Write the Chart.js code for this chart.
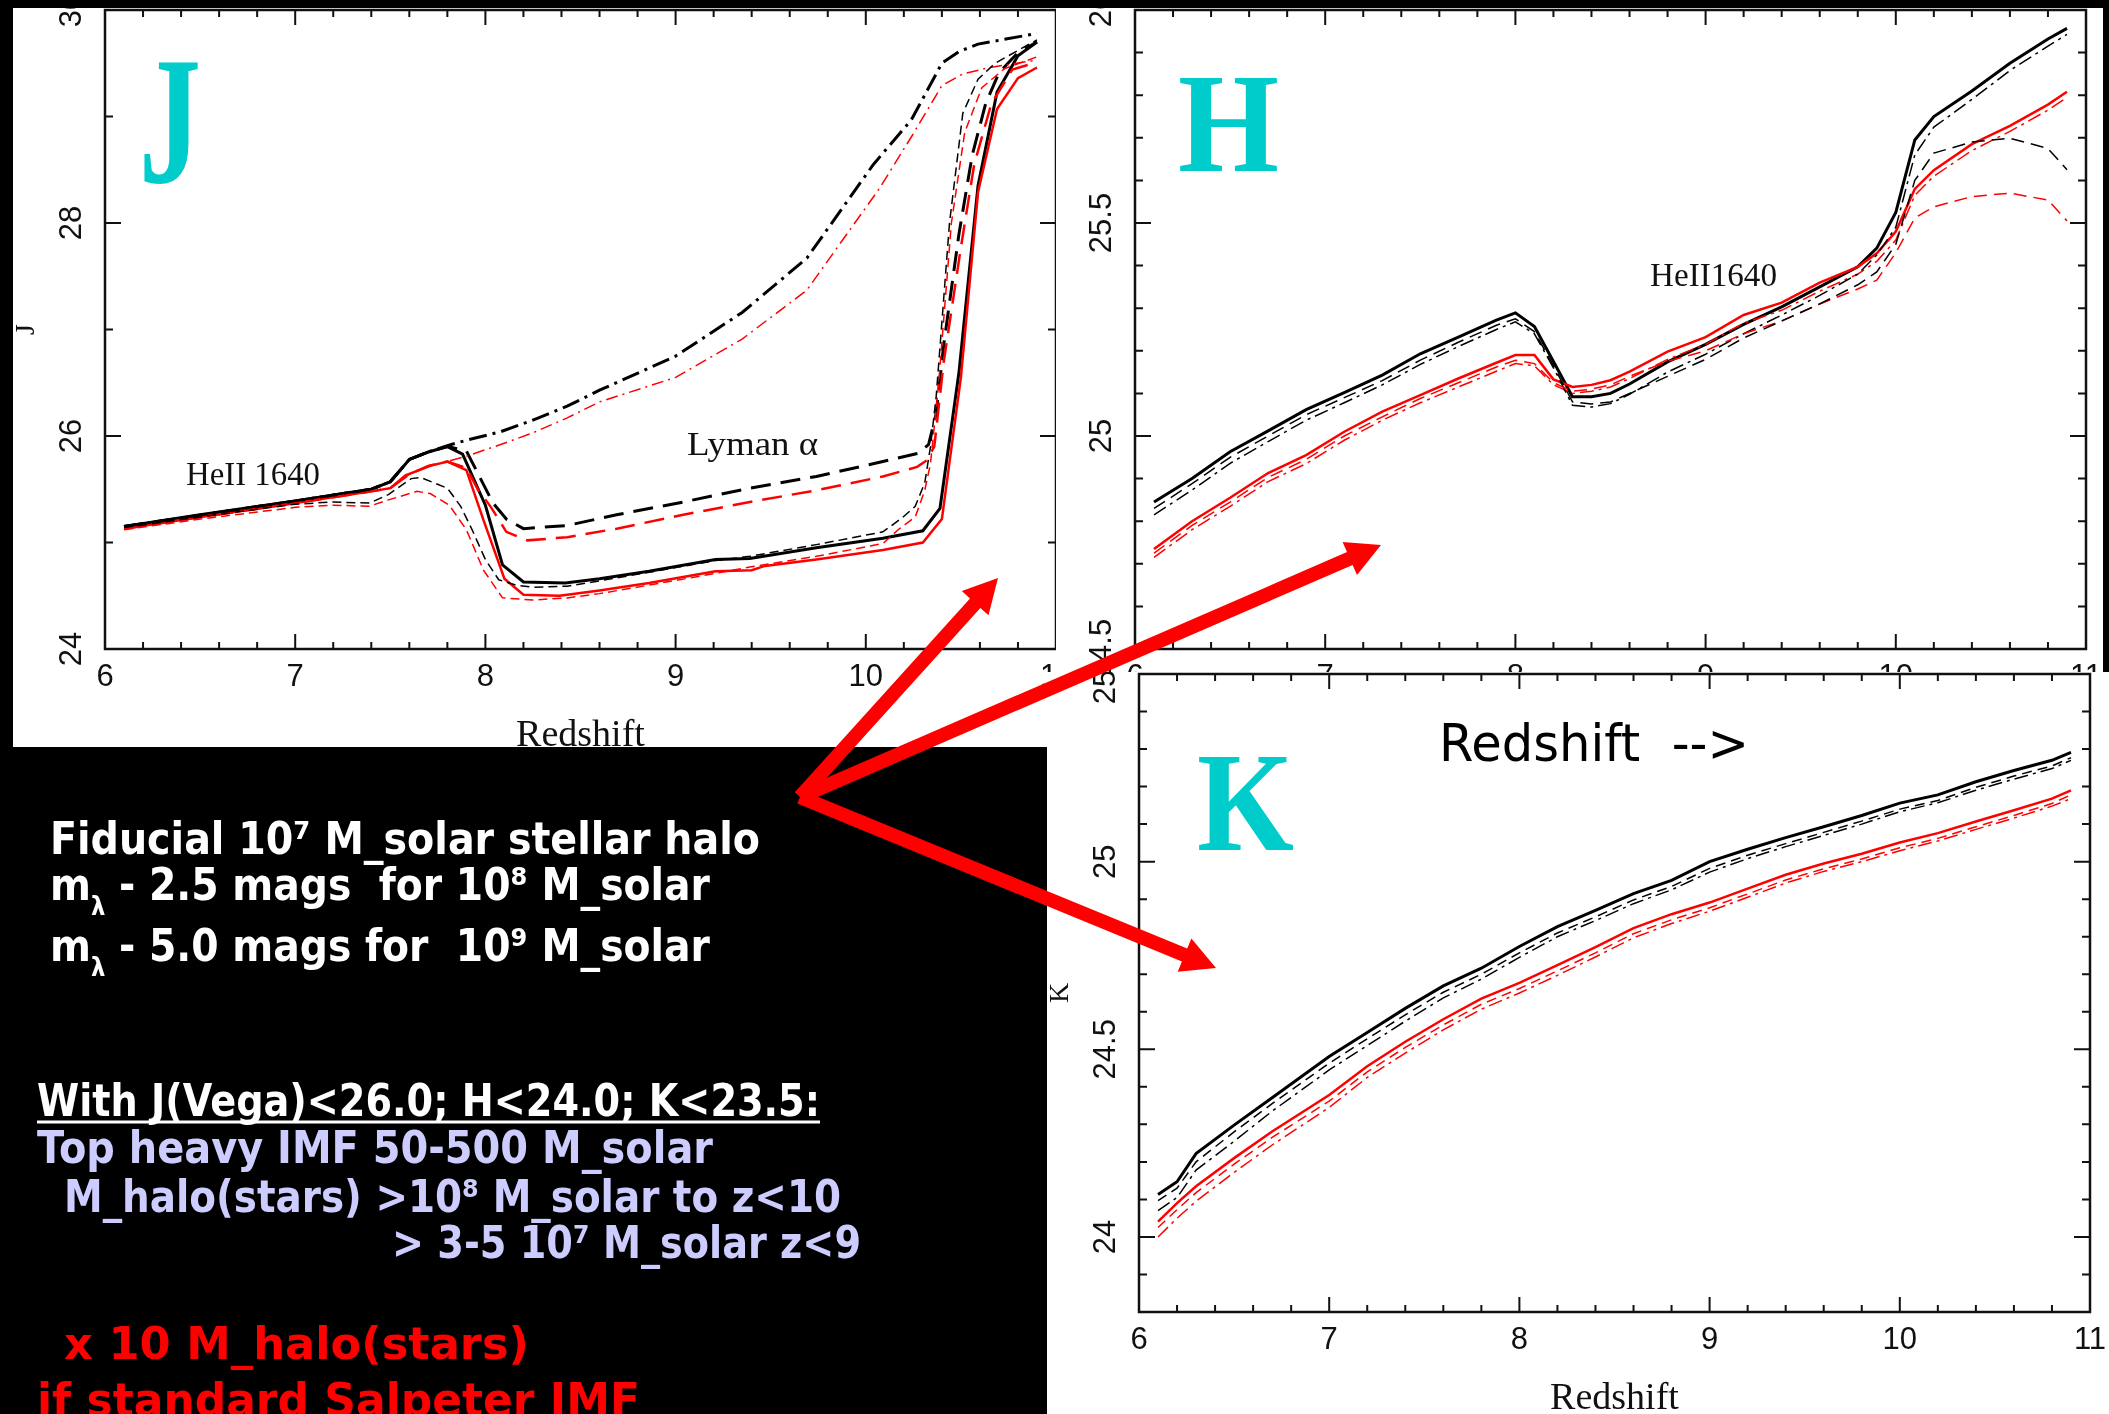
<!DOCTYPE html>
<html>
<head>
<meta charset="utf-8">
<script src="https://cdn.jsdelivr.net/npm/chart.js@4.4.1/dist/chart.umd.min.js"></script>
<style>
html, body { margin: 0; padding: 0; background: #000; }
body { position: relative; width: 2109px; height: 1414px; overflow: hidden; }
canvas { position: absolute; background: #fff; }
#cJ { left: 13px; top: 8px; }
#cH { left: 1056px; top: 8px; }
#cK { left: 1047px; top: 672px; }
#over { position: absolute; left: 0; top: 0; }
#over text { white-space: pre; }
.side { font-family: "DejaVu Sans", sans-serif; font-weight: bold; font-size: 45px; }
.big { font-family: "Liberation Serif", serif; font-weight: bold; font-size: 142px; fill: #00cccc; }
.note { font-family: "Liberation Serif", serif; font-size: 33px; fill: #111; }
</style>
</head>
<body>
<canvas id="cJ" width="1043" height="739"></canvas>
<canvas id="cH" width="1047" height="700"></canvas>
<canvas id="cK" width="1062" height="742"></canvas>
<svg id="over" width="2109" height="1414" xmlns="http://www.w3.org/2000/svg">
  <text class="big" x="139" y="182" style="font-size:183px" textLength="62" lengthAdjust="spacingAndGlyphs">J</text>
  <text class="big" x="1178" y="171" textLength="101" lengthAdjust="spacingAndGlyphs">H</text>
  <text class="big" x="1197" y="850" textLength="97" lengthAdjust="spacingAndGlyphs">K</text>
  <text x="1439" y="761" font-family="DejaVu Sans, sans-serif" font-size="52" textLength="310" lengthAdjust="spacingAndGlyphs">Redshift  --&gt;</text>

  <text class="note" x="186" y="485" textLength="134" lengthAdjust="spacingAndGlyphs">HeII 1640</text>
  <text class="note" x="687" y="455" textLength="131" lengthAdjust="spacingAndGlyphs">Lyman α</text>
  <text class="note" x="1650" y="286" textLength="127" lengthAdjust="spacingAndGlyphs">HeII1640</text>

  <text class="side" fill="#fff" x="50" y="854" textLength="710" lengthAdjust="spacingAndGlyphs">Fiducial 10⁷ M_solar stellar halo</text>
  <text class="side" fill="#fff" x="50" y="900" textLength="660" lengthAdjust="spacingAndGlyphs">m<tspan dy="15" style="font-size:26px">λ</tspan><tspan dy="-15"> - 2.5 mags  for 10⁸ M_solar</tspan></text>
  <text class="side" fill="#fff" x="50" y="961" textLength="660" lengthAdjust="spacingAndGlyphs">m<tspan dy="15" style="font-size:26px">λ</tspan><tspan dy="-15"> - 5.0 mags for  10⁹ M_solar</tspan></text>
  <text class="side" fill="#fff" x="37" y="1116" textLength="783" lengthAdjust="spacingAndGlyphs">With J(Vega)&lt;26.0; H&lt;24.0; K&lt;23.5:</text>
  <line x1="37" y1="1122" x2="820" y2="1122" stroke="#fff" stroke-width="3"/>
  <text class="side" fill="#ccccff" x="37" y="1163" textLength="676" lengthAdjust="spacingAndGlyphs">Top heavy IMF 50-500 M_solar</text>
  <text class="side" fill="#ccccff" x="64" y="1212" textLength="777" lengthAdjust="spacingAndGlyphs">M_halo(stars) &gt;10⁸ M_solar to z&lt;10</text>
  <text class="side" fill="#ccccff" x="392" y="1258" textLength="469" lengthAdjust="spacingAndGlyphs">&gt; 3-5 10⁷ M_solar z&lt;9</text>
  <text class="side" fill="#ff0000" x="64" y="1359" textLength="465" lengthAdjust="spacingAndGlyphs">x 10 M_halo(stars)</text>
  <text class="side" fill="#ff0000" x="37" y="1416" style="font-size:47px" textLength="603" lengthAdjust="spacingAndGlyphs">if standard Salpeter IMF</text>
  <g id="arrows" fill="#ff0000"></g>
</svg>
<script>
// ---------------------------
// shared axes
// ---------------------------
const zTickLabels = [6, 7, 8, 9, 10, 11];
const jTickLabels = [24, 26, 28, 30];
const hTickLabels = [24.5, 25, 25.5, 26];
const kTickLabels = [24, 24.5, 25, 25.5];

// ---------------------------
// J band (redshift, mag)
// ---------------------------
const jBlackSolidZ = [6.1, 6.5, 7.0, 7.4, 7.5, 7.6, 7.7, 7.8, 7.88, 8.0, 8.09, 8.2, 8.42, 8.6, 8.86, 9.21, 9.39, 9.74, 10.09, 10.3, 10.39, 10.49, 10.59, 10.69, 10.8, 10.9];
const jBlackSolid  = [25.15, 25.26, 25.39, 25.50, 25.57, 25.78, 25.85, 25.90, 25.83, 25.35, 24.79, 24.63, 24.62, 24.66, 24.73, 24.84, 24.85, 24.95, 25.04, 25.11, 25.32, 26.6, 28.35, 29.23, 29.57, 29.70];

const jRedSolidZ = [6.1, 6.5, 7.0, 7.4, 7.5, 7.58, 7.71, 7.8, 7.9, 7.99, 8.1, 8.2, 8.39, 8.6, 8.86, 9.21, 9.4, 9.47, 9.74, 10.09, 10.3, 10.4, 10.5, 10.59, 10.69, 10.8, 10.9];
const jRedSolid  = [25.13, 25.24, 25.37, 25.48, 25.51, 25.63, 25.72, 25.76, 25.68, 25.21, 24.66, 24.51, 24.50, 24.55, 24.62, 24.73, 24.74, 24.78, 24.84, 24.93, 25.0, 25.22, 26.55, 28.29, 29.07, 29.36, 29.46];

const jBlackDashDotZ = [6.1, 7.0, 7.4, 7.5, 7.6, 7.7, 7.8, 7.9, 8.08, 8.25, 8.43, 8.6, 9.0, 9.35, 9.69, 10.04, 10.24, 10.4, 10.49, 10.59, 10.9];
const jBlackDashDot  = [25.15, 25.39, 25.50, 25.57, 25.78, 25.85, 25.91, 25.96, 26.04, 26.15, 26.28, 26.43, 26.75, 27.16, 27.67, 28.55, 28.97, 29.50, 29.61, 29.68, 29.78];

const jRedDashDotZ = [6.1, 7.0, 7.4, 7.5, 7.6, 7.7, 7.8, 7.9, 8.08, 8.25, 8.43, 8.6, 9.0, 9.35, 9.69, 10.07, 10.24, 10.4, 10.51, 10.65, 10.9];
const jRedDashDot  = [25.13, 25.37, 25.48, 25.51, 25.64, 25.72, 25.76, 25.81, 25.92, 26.03, 26.17, 26.32, 26.55, 26.91, 27.37, 28.32, 28.81, 29.29, 29.40, 29.46, 29.53];

const jBlackDashZ = [6.1, 7.0, 7.4, 7.5, 7.6, 7.7, 7.8, 7.9, 7.96, 8.04, 8.11, 8.2, 8.43, 8.69, 9.04, 9.39, 9.74, 10.09, 10.28, 10.33, 10.37, 10.41, 10.49, 10.56, 10.63, 10.7, 10.8, 10.9];
const jBlackDash  = [25.15, 25.39, 25.50, 25.57, 25.78, 25.85, 25.90, 25.86, 25.65, 25.37, 25.22, 25.13, 25.16, 25.26, 25.38, 25.51, 25.62, 25.76, 25.84, 25.92, 26.21, 26.86, 27.90, 28.64, 29.12, 29.41, 29.60, 29.70];

const jRedDashZ = [6.1, 7.0, 7.4, 7.5, 7.6, 7.7, 7.8, 7.9, 7.96, 8.03, 8.11, 8.22, 8.43, 8.69, 9.04, 9.39, 9.74, 10.09, 10.27, 10.32, 10.36, 10.41, 10.5, 10.57, 10.66, 10.77, 10.9];
const jRedDash  = [25.13, 25.37, 25.48, 25.51, 25.64, 25.72, 25.76, 25.70, 25.50, 25.33, 25.10, 25.02, 25.05, 25.13, 25.26, 25.38, 25.49, 25.62, 25.71, 25.77, 25.90, 26.70, 27.77, 28.55, 29.12, 29.44, 29.51];

const jBlackThinZ = [6.1, 6.5, 7.0, 7.2, 7.39, 7.49, 7.61, 7.66, 7.8, 7.87, 7.93, 8.0, 8.07, 8.16, 8.25, 8.43, 8.6, 8.86, 9.21, 9.39, 9.74, 10.09, 10.19, 10.26, 10.31, 10.34, 10.37, 10.44, 10.51, 10.59, 10.68, 10.9];
const jBlackThin  = [25.14, 25.24, 25.36, 25.38, 25.37, 25.45, 25.60, 25.61, 25.51, 25.34, 25.12, 24.84, 24.65, 24.60, 24.58, 24.59, 24.64, 24.72, 24.83, 24.87, 24.98, 25.10, 25.23, 25.34, 25.56, 25.90, 26.37, 28.0, 29.03, 29.35, 29.50, 29.72];

const jRedThinZ = [6.1, 6.5, 7.0, 7.2, 7.39, 7.49, 7.64, 7.71, 7.81, 7.9, 7.99, 8.09, 8.25, 8.43, 8.6, 8.86, 9.21, 9.39, 9.74, 10.09, 10.17, 10.26, 10.31, 10.34, 10.38, 10.45, 10.52, 10.61, 10.73, 10.9];
const jRedThin  = [25.12, 25.22, 25.33, 25.35, 25.34, 25.40, 25.48, 25.46, 25.35, 25.12, 24.74, 24.48, 24.46, 24.48, 24.52, 24.60, 24.71, 24.77, 24.87, 24.99, 25.12, 25.24, 25.49, 25.74, 26.43, 28.0, 28.85, 29.27, 29.45, 29.56];

// ---------------------------
// H band
// ---------------------------
const zH = [6.1, 6.3, 6.5, 6.7, 6.9, 7.1, 7.3, 7.5, 7.7, 7.9, 8.0, 8.1, 8.2, 8.3, 8.4, 8.5, 8.6, 8.8, 9.0, 9.2, 9.4, 9.6, 9.8, 9.9, 10.0, 10.1, 10.2, 10.4, 10.6, 10.8, 10.9];
const hBlackSolid   = [24.845, 24.90, 24.963, 25.012, 25.062, 25.102, 25.143, 25.193, 25.232, 25.272, 25.289, 25.257, 25.175, 25.092, 25.092, 25.10, 25.122, 25.174, 25.215, 25.262, 25.303, 25.35, 25.397, 25.441, 25.525, 25.695, 25.75, 25.81, 25.875, 25.932, 25.957];
const hBlackDashDot = [24.815, 24.873, 24.936, 24.987, 25.037, 25.078, 25.12, 25.168, 25.21, 25.25, 25.268, 25.24, 25.16, 25.072, 25.068, 25.076, 25.098, 25.15, 25.192, 25.24, 25.284, 25.33, 25.38, 25.425, 25.49, 25.66, 25.725, 25.79, 25.858, 25.915, 25.943];
const hBlackDash    = [24.83, 24.888, 24.95, 25.0, 25.05, 25.09, 25.13, 25.178, 25.22, 25.26, 25.275, 25.245, 25.165, 25.08, 25.075, 25.08, 25.1, 25.14, 25.18, 25.23, 25.27, 25.31, 25.355, 25.385, 25.45, 25.6, 25.664, 25.69, 25.699, 25.675, 25.625];
const hRedSolid     = [24.735, 24.80, 24.855, 24.913, 24.955, 25.01, 25.057, 25.096, 25.135, 25.172, 25.19, 25.19, 25.133, 25.115, 25.12, 25.131, 25.151, 25.198, 25.232, 25.284, 25.313, 25.36, 25.397, 25.429, 25.48, 25.58, 25.624, 25.685, 25.728, 25.778, 25.808];
const hRedDashDot   = [24.715, 24.78, 24.835, 24.893, 24.935, 24.99, 25.037, 25.078, 25.115, 25.152, 25.17, 25.165, 25.12, 25.1, 25.105, 25.115, 25.135, 25.18, 25.215, 25.265, 25.295, 25.34, 25.38, 25.41, 25.46, 25.565, 25.61, 25.67, 25.715, 25.765, 25.795];
const hRedDash      = [24.725, 24.79, 24.845, 24.903, 24.945, 25.0, 25.045, 25.088, 25.125, 25.162, 25.178, 25.17, 25.125, 25.105, 25.11, 25.12, 25.14, 25.175, 25.2, 25.24, 25.27, 25.31, 25.345, 25.366, 25.43, 25.512, 25.538, 25.562, 25.57, 25.554, 25.505];

// ---------------------------
// K band
// ---------------------------
const zK = [6.1, 6.2, 6.3, 6.5, 6.7, 7.0, 7.2, 7.4, 7.6, 7.8, 8.0, 8.2, 8.4, 8.6, 8.8, 9.0, 9.2, 9.4, 9.6, 9.8, 10.0, 10.2, 10.4, 10.6, 10.8, 10.9];
const kBlackSolid   = [24.113, 24.147, 24.222, 24.298, 24.371, 24.481, 24.545, 24.609, 24.669, 24.716, 24.774, 24.827, 24.870, 24.915, 24.950, 25.000, 25.033, 25.064, 25.093, 25.123, 25.156, 25.178, 25.213, 25.243, 25.270, 25.291];
const kBlackDash    = [24.097, 24.13, 24.20, 24.28, 24.355, 24.463, 24.528, 24.592, 24.652, 24.70, 24.757, 24.81, 24.853, 24.898, 24.934, 24.982, 25.017, 25.048, 25.078, 25.108, 25.14, 25.163, 25.198, 25.228, 25.255, 25.277];
const kBlackDashDot = [24.07, 24.105, 24.178, 24.255, 24.335, 24.445, 24.51, 24.575, 24.637, 24.687, 24.745, 24.8, 24.843, 24.888, 24.925, 24.972, 25.008, 25.04, 25.07, 25.1, 25.133, 25.157, 25.19, 25.22, 25.248, 25.27];
const kRedSolid     = [24.041, 24.09, 24.135, 24.21, 24.281, 24.378, 24.455, 24.52, 24.58, 24.635, 24.677, 24.724, 24.772, 24.823, 24.86, 24.891, 24.928, 24.965, 24.995, 25.021, 25.051, 25.076, 25.107, 25.137, 25.168, 25.19];
const kRedDash      = [24.025, 24.073, 24.118, 24.194, 24.265, 24.362, 24.44, 24.505, 24.565, 24.62, 24.662, 24.709, 24.757, 24.808, 24.845, 24.877, 24.914, 24.951, 24.981, 25.007, 25.037, 25.062, 25.093, 25.123, 25.155, 25.178];
const kRedDashDot   = [24.0, 24.05, 24.095, 24.172, 24.245, 24.345, 24.425, 24.49, 24.552, 24.607, 24.65, 24.697, 24.746, 24.797, 24.835, 24.868, 24.905, 24.943, 24.974, 25.0, 25.029, 25.055, 25.086, 25.116, 25.148, 25.168];

// ---------------------------
// helpers
// ---------------------------
const BLACK = '#000000';
const RED = '#ff0000';

function pts(xs, ys){
    return xs.map((x, i) => ({ x: x, y: ys[i] }));
}

function line(xs, ys, color, width, dash){
    return {
        data: pts(xs, ys),
        borderColor: color,
        borderWidth: width,
        borderDash: dash || [],
        fill: false,
        pointRadius: 0,
        tension: 0
    };
}

function isMajor(v, step){
    const r = v / step;
    return Math.abs(r - Math.round(r)) < 1e-6;
}

// box, inward ticks on all sides, rotated y labels, titles
const framePlugin = {
    id: 'frame',
    afterDatasetsDraw(chart, args, o){
        const ctx = chart.ctx;
        const a = chart.chartArea;
        const sx = chart.scales.x;
        const sy = chart.scales.y;

        ctx.save();
        ctx.strokeStyle = '#111';
        ctx.lineWidth = 2.5;
        ctx.strokeRect(a.left, a.top, a.right - a.left, a.bottom - a.top);

        ctx.lineWidth = 2;
        ctx.beginPath();
        const nx = Math.round((sx.max - sx.min) / o.xMinor);
        for (let i = 0; i <= nx; i++){
            const v = sx.min + i * o.xMinor;
            const len = isMajor(v, o.xMajor) ? 15 : 7;
            const px = sx.getPixelForValue(v);
            ctx.moveTo(px, a.bottom); ctx.lineTo(px, a.bottom - len);
            ctx.moveTo(px, a.top); ctx.lineTo(px, a.top + len);
        }
        const ny = Math.round((sy.max - sy.min) / o.yMinor);
        for (let i = 0; i <= ny; i++){
            const v = sy.min + i * o.yMinor;
            const len = isMajor(v, o.yMajor) ? 16 : 8;
            const py = sy.getPixelForValue(v);
            ctx.moveTo(a.left, py); ctx.lineTo(a.left + len, py);
            ctx.moveTo(a.right, py); ctx.lineTo(a.right - len, py);
        }
        ctx.stroke();

        ctx.fillStyle = '#111';
        ctx.font = '31px "Liberation Sans", Arial, sans-serif';
        ctx.textAlign = 'center';
        ctx.textBaseline = 'middle';
        o.xLabels.forEach(v => {
            ctx.fillText(String(v), sx.getPixelForValue(v), a.bottom + 28);
        });
        o.yLabels.forEach(v => {
            ctx.save();
            ctx.translate(a.left - 33, sy.getPixelForValue(v));
            ctx.rotate(-Math.PI / 2);
            ctx.fillText(String(v), 0, 0);
            ctx.restore();
        });

        if (o.xTitle){
            ctx.font = '38px "Liberation Serif", serif';
            ctx.textBaseline = 'alphabetic';
            ctx.fillText(o.xTitle, (a.left + a.right) / 2, a.bottom + 97);
        }
        if (o.yTitle){
            ctx.save();
            ctx.font = '28px "Liberation Serif", serif';
            ctx.textBaseline = 'middle';
            ctx.translate(a.left - 78, (a.top + a.bottom) / 2);
            ctx.rotate(-Math.PI / 2);
            ctx.fillText(o.yTitle, 0, 0);
            ctx.restore();
        }
        ctx.restore();
    }
};

function makeChart(id, datasets, yMin, yMax, pad, frame){
    return new Chart(document.getElementById(id), {
        type: 'line',
        data: { datasets: datasets },
        options: {
            responsive: false,
            animation: false,
            devicePixelRatio: 1,
            layout: { padding: pad },
            scales: {
                x: { type: 'linear', min: 6, max: 11, display: false },
                y: { type: 'linear', min: yMin, max: yMax, display: false }
            },
            plugins: {
                legend: { display: false },
                tooltip: { enabled: false },
                frame: frame
            }
        },
        plugins: [framePlugin]
    });
}

// ---------------------------
// charts
// ---------------------------
makeChart('cJ', [
    line(jBlackThinZ, jBlackThin, BLACK, 1.5, [9, 5]),
    line(jRedThinZ, jRedThin, RED, 1.5, [9, 5]),
    line(jRedDashDotZ, jRedDashDot, RED, 1.5, [12, 5, 2, 5]),
    line(jBlackDashDotZ, jBlackDashDot, BLACK, 3, [18, 6, 3, 6]),
    line(jRedDashZ, jRedDash, RED, 2.5, [20, 10]),
    line(jBlackDashZ, jBlackDash, BLACK, 3, [20, 10]),
    line(jRedSolidZ, jRedSolid, RED, 2.5),
    line(jBlackSolidZ, jBlackSolid, BLACK, 3)
], 24, 30, { left: 92, right: 0, top: 2, bottom: 98 }, {
    xMinor: 0.2, xMajor: 1, yMinor: 1, yMajor: 2,
    xLabels: zTickLabels, yLabels: jTickLabels,
    xTitle: 'Redshift', yTitle: 'J'
});

makeChart('cH', [
    line(zH, hBlackDash, BLACK, 1.5, [13, 7]),
    line(zH, hRedDash, RED, 1.5, [13, 7]),
    line(zH, hBlackDashDot, BLACK, 1.5, [14, 5, 3, 5]),
    line(zH, hRedDashDot, RED, 1.5, [14, 5, 3, 5]),
    line(zH, hRedSolid, RED, 2.5),
    line(zH, hBlackSolid, BLACK, 3)
], 24.5, 26, { left: 79, right: 17, top: 2, bottom: 59 }, {
    xMinor: 0.2, xMajor: 1, yMinor: 0.1, yMajor: 0.5,
    xLabels: zTickLabels, yLabels: hTickLabels,
    xTitle: null, yTitle: null
});

makeChart('cK', [
    line(zK, kBlackDash, BLACK, 1.5, [10, 6]),
    line(zK, kRedDash, RED, 1.5, [10, 6]),
    line(zK, kBlackDashDot, BLACK, 1.5, [14, 5, 3, 5]),
    line(zK, kRedDashDot, RED, 1.5, [14, 5, 3, 5]),
    line(zK, kRedSolid, RED, 2.5),
    line(zK, kBlackSolid, BLACK, 3)
], 23.8, 25.5, { left: 92, right: 19, top: 2, bottom: 102 }, {
    xMinor: 0.2, xMajor: 1, yMinor: 0.1, yMajor: 0.5,
    xLabels: zTickLabels, yLabels: kTickLabels,
    xTitle: 'Redshift', yTitle: 'K'
});

// ---------------------------
// red arrows
// ---------------------------
function arrowPath(x0, y0, x1, y1, w, hl, hw){
    const L = Math.hypot(x1 - x0, y1 - y0);
    const ux = (x1 - x0) / L, uy = (y1 - y0) / L;
    const nx = -uy, ny = ux;
    const bx = x1 - ux * hl, by = y1 - uy * hl;
    const p = [
        [x0 + nx * w / 2, y0 + ny * w / 2],
        [bx + nx * w / 2, by + ny * w / 2],
        [bx + nx * hw / 2, by + ny * hw / 2],
        [x1, y1],
        [bx - nx * hw / 2, by - ny * hw / 2],
        [bx - nx * w / 2, by - ny * w / 2],
        [x0 - nx * w / 2, y0 - ny * w / 2]
    ];
    return p.map(q => q[0].toFixed(1) + ',' + q[1].toFixed(1)).join(' ');
}

const arrowTips = [[998, 578], [1381, 545], [1216, 968]];
const g = document.getElementById('arrows');
arrowTips.forEach(t => {
    const poly = document.createElementNS('http://www.w3.org/2000/svg', 'polygon');
    poly.setAttribute('points', arrowPath(800, 797, t[0], t[1], 14, 34, 36));
    g.appendChild(poly);
});
</script>
</body>
</html>
